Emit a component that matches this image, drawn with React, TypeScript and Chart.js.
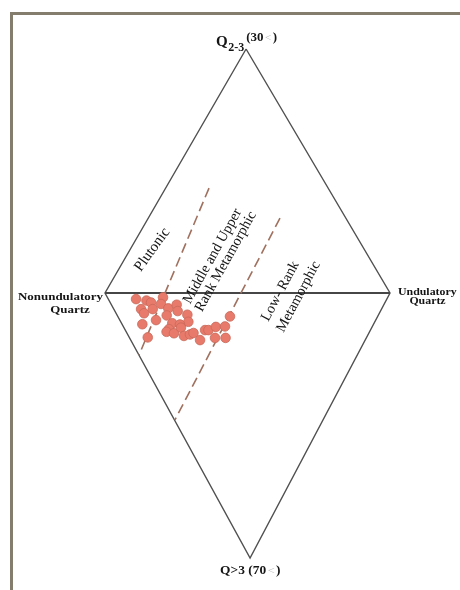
import React, { useEffect, useRef } from "react";
import { Chart, registerables } from "chart.js";

Chart.register(...registerables);

const W = 460;
const H = 590;

// Diagram units: x runs from Nonundulatory Quartz (-100) to Undulatory Quartz (100);
// y runs from the Q2-3 apex (100) down to the Q>3 apex (about -108.6).
const diamondX = [-1, 100, 1.8, -100, -1];
const diamondY = [100, 0, -108.6, 0, 100];
const axisX = [-100, 100];
const axisY = [0, 0];
const boundary1X = [-27.0, -76.1];
const boundary1Y = [43.0, -25.4];
const boundary2X = [22.8, -50.9];
const boundary2Y = [30.7, -52.0];

const sampleX = [
  -78.2, -70.9, -67.7, -59.3, -60.7, -74.7, -72.6, -66.5, -55.6, -49.7, -49.0, -56.7,
  -64.2, -73.8, -42.2, -41.5, -52.8, -47.4, -55.1, -56.8, -51.6, -46.7, -44.6, -40.4,
  -37.9, -70.0, -33.3, -29.8, -27.4, -22.2, -15.8, -12.3, -22.8, -15.4,
];
const sampleY = [
  -2.5, -3.1, -3.9, -1.8, -4.5, -6.6, -8.3, -6.6, -6.3, -4.8, -7.4, -9.2,
  -11.1, -12.8, -8.9, -11.8, -12.4, -12.9, -14.8, -15.9, -16.5, -14.2, -17.6, -17.0,
  -16.4, -18.2, -19.3, -15.2, -15.2, -13.9, -13.7, -9.6, -18.4, -18.4,
];

const regionLabels = ["Plutonic", "Middle and Upper", "Rank Metamorphic", "Low- Rank", "Metamorphic"];
const cornerLabels = ["Q", "2-3", "(30", "<", ")", "Nonundulatory", "Quartz", "Undulatory", "Q>3 (70", "<", ")"];

const pts = (xs: number[], ys: number[]) => xs.map((x, i) => ({ x, y: ys[i] }));

const SERIF = '"Liberation Serif", "DejaVu Serif", serif';

type Seg = { t: string; size: number; bold?: boolean; dy?: number; color?: string; gap?: number };

function drawSegs(ctx: CanvasRenderingContext2D, segs: Seg[], x0: number, y0: number, sx = 1) {
  let x = x0;
  for (const s of segs) {
    x += s.gap || 0;
    ctx.save();
    ctx.font = `${s.bold ? "bold " : ""}${s.size}px ${SERIF}`;
    ctx.fillStyle = s.color || "#151515";
    ctx.textAlign = "left";
    ctx.textBaseline = "alphabetic";
    ctx.translate(x, y0 + (s.dy || 0));
    ctx.scale(sx, 1);
    ctx.fillText(s.t, 0, 0);
    const w = ctx.measureText(s.t).width * sx;
    ctx.restore();
    x += w;
  }
}

function drawText(
  ctx: CanvasRenderingContext2D,
  t: string,
  x: number,
  y: number,
  font: string,
  align: CanvasTextAlign,
  sx = 1,
  rot = 0,
  color = "#151515"
) {
  ctx.save();
  ctx.font = font;
  ctx.fillStyle = color;
  ctx.textAlign = align;
  ctx.textBaseline = "alphabetic";
  ctx.translate(x, y);
  ctx.scale(sx, 1);
  ctx.rotate(rot);
  ctx.fillText(t, 0, 0);
  ctx.restore();
}

const framePlugin = {
  id: "frame",
  beforeDraw(chart: any) {
    const ctx = chart.ctx as CanvasRenderingContext2D;
    ctx.save();
    ctx.fillStyle = "#ffffff";
    ctx.fillRect(0, 0, chart.width, chart.height);
    ctx.fillStyle = "#847c6c";
    ctx.fillRect(10, 12, chart.width - 10, 3);
    ctx.fillRect(10, 12, 3, chart.height - 12);
    ctx.restore();
  },
};

const labelsPlugin = {
  id: "labels",
  afterDraw(chart: any) {
    const ctx = chart.ctx as CanvasRenderingContext2D;
    const xs = chart.scales.x;
    const ys = chart.scales.y;
    const px = (v: number) => xs.getPixelForValue(v);
    const py = (v: number) => ys.getPixelForValue(v);

    // apex labels
    const tx = px(diamondX[0]);
    const ty = py(diamondY[0]);
    drawSegs(
      ctx,
      [
        { t: cornerLabels[0], size: 15, bold: true, dy: -3.5 },
        { t: cornerLabels[1], size: 12, bold: true, dy: 1.5, gap: 0.5 },
        { t: cornerLabels[2], size: 13, bold: true, dy: -8, gap: 2 },
        { t: cornerLabels[3], size: 11, dy: -8.5, color: "#b8b8b8", gap: 1.5 },
        { t: cornerLabels[4], size: 13, bold: true, dy: -8, gap: 1.5 },
      ],
      tx - 30,
      ty
    );

    const lx = px(diamondX[3]);
    const ly = py(diamondY[3]);
    drawText(ctx, cornerLabels[5], lx - 2, ly + 6.5, `bold 11px ${SERIF}`, "right", 1.18);
    drawText(ctx, cornerLabels[6], lx - 35, ly + 19.5, `bold 11px ${SERIF}`, "center", 1.18);

    const rx = px(diamondX[1]);
    const ry = py(diamondY[1]);
    drawText(ctx, cornerLabels[7], rx + 8, ry + 1.5, `bold 10.5px ${SERIF}`, "left", 1.13);
    drawText(ctx, cornerLabels[6], rx + 37.5, ry + 10.5, `bold 10.5px ${SERIF}`, "center", 1.13);

    const bx = px(diamondX[2]);
    const by = py(diamondY[2]);
    drawSegs(
      ctx,
      [
        { t: cornerLabels[8], size: 12, bold: true },
        { t: cornerLabels[9], size: 11, color: "#b8b8b8", gap: 1.5 },
        { t: cornerLabels[10], size: 12, bold: true, gap: 1.5 },
      ],
      bx - 30,
      by + 16.5,
      1.12
    );

    // field labels (baseline centres in diagram units)
    const reg = `14.5px ${SERIF}`;
    const a1 = (-54 * Math.PI) / 180;
    drawText(ctx, regionLabels[0], px(-64.6), py(16.8), `15px ${SERIF}`, "center", 1, a1);

    const a2 = (-61 * Math.PI) / 180;
    const mx = px(-22.2);
    const my = py(14.3);
    const n2x = -Math.sin(a2);
    const n2y = Math.cos(a2);
    drawText(ctx, regionLabels[1], mx, my, reg, "center", 1, a2);
    drawText(ctx, regionLabels[2], mx + n2x * 14 + 1, my + n2y * 14 - 1.5, reg, "center", 1, a2);

    const a3 = (-62 * Math.PI) / 180;
    const wx = px(25.4);
    const wy = py(0);
    const n3x = -Math.sin(a3);
    const n3y = Math.cos(a3);
    drawText(ctx, regionLabels[3], wx, wy, reg, "center", 1, a3);
    drawText(ctx, regionLabels[4], wx + n3x * 16 + 4, wy + n3y * 16 - 2, reg, "center", 1, a3);
  },
};

export default function App() {
  const ref = useRef<HTMLCanvasElement | null>(null);

  useEffect(() => {
    if (!ref.current) return;
    const lineBase = { showLine: true, pointRadius: 0, fill: false, tension: 0, clip: false as any };
    const chart = new Chart(ref.current, {
      type: "scatter",
      data: {
        datasets: [
          {
            label: "samples",
            data: pts(sampleX, sampleY),
            backgroundColor: "#e77a6a",
            borderColor: "#c96a5a",
            borderWidth: 0.8,
            pointRadius: 4.8,
            clip: false as any,
            order: 0,
          },
          {
            ...lineBase,
            label: "frame",
            data: pts(diamondX, diamondY),
            borderColor: "#505050",
            borderWidth: 1.4,
            order: 3,
          },
          {
            ...lineBase,
            label: "axis",
            data: pts(axisX, axisY),
            borderColor: "#464646",
            borderWidth: 1.8,
            order: 2,
          },
          {
            ...lineBase,
            label: "boundary1",
            data: pts(boundary1X, boundary1Y),
            borderColor: "#a0705f",
            borderWidth: 1.6,
            borderDash: [10, 5],
            order: 1,
          },
          {
            ...lineBase,
            label: "boundary2",
            data: pts(boundary2X, boundary2Y),
            borderColor: "#a0705f",
            borderWidth: 1.6,
            borderDash: [10, 5],
            order: 1,
          },
        ] as any,
      },
      options: {
        animation: false,
        responsive: false,
        devicePixelRatio: 1,
        layout: { padding: { left: 105, right: 70, top: 49, bottom: 28.6 } },
        plugins: { legend: { display: false }, tooltip: { enabled: false } },
        scales: {
          x: { type: "linear", min: -100, max: 100, display: false },
          y: { type: "linear", min: -110, max: 100, display: false },
        },
      },
      plugins: [framePlugin, labelsPlugin],
    });
    return () => chart.destroy();
  }, []);

  return (
    <div style={{ position: "fixed", left: 0, top: 0, width: W, height: H, background: "#fff" }}>
      <canvas ref={ref} width={W} height={H} style={{ display: "block", width: W, height: H }} />
    </div>
  );
}
